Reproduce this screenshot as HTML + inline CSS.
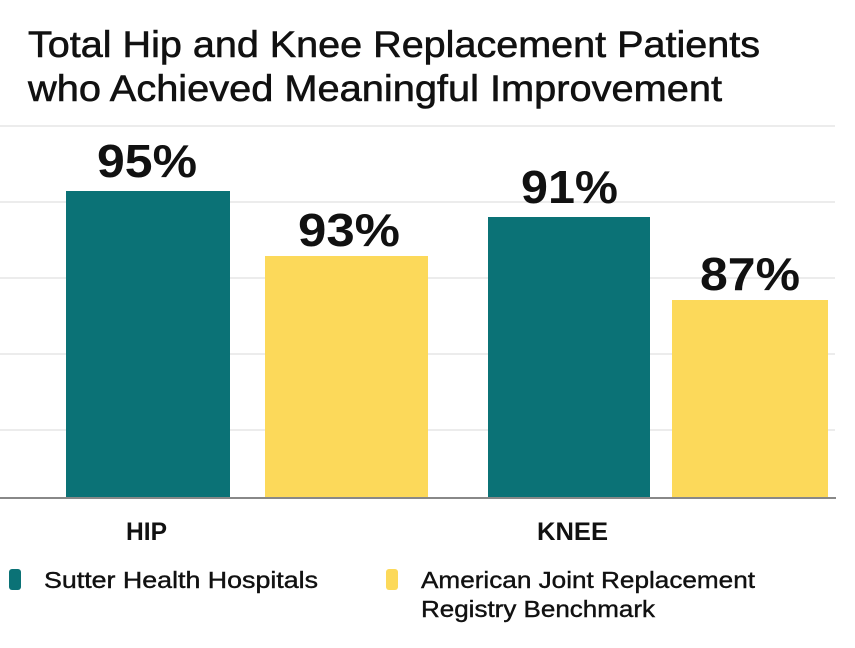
<!DOCTYPE html>
<html><head><style>
body{margin:0;width:855px;height:643px;background:#fff;overflow:hidden;font-family:"Liberation Sans",sans-serif;}
</style></head><body>
<svg width="855" height="643" xmlns="http://www.w3.org/2000/svg" font-family="Liberation Sans, sans-serif">
<g font-size="37" fill="#111" stroke="#111" stroke-width="0.6">
<text x="28" y="57" textLength="732" lengthAdjust="spacingAndGlyphs">Total Hip and Knee Replacement Patients</text>
<text x="28" y="101" textLength="694" lengthAdjust="spacingAndGlyphs">who Achieved Meaningful Improvement</text></g>
<g stroke="#e6e6e6" stroke-width="1.5">
<line x1="0" y1="126" x2="835" y2="126"/><line x1="0" y1="202" x2="835" y2="202"/>
<line x1="0" y1="278" x2="835" y2="278"/><line x1="0" y1="354" x2="835" y2="354"/>
<line x1="0" y1="430" x2="835" y2="430"/></g>
<rect x="66" y="191" width="164" height="307" fill="#0b7276"/>
<rect x="265" y="256" width="163" height="242" fill="#fcd95a"/>
<rect x="488" y="217" width="162" height="281" fill="#0b7276"/>
<rect x="672" y="300" width="156" height="198" fill="#fcd95a"/>
<line x1="0" y1="498" x2="836" y2="498" stroke="#888" stroke-width="2"/>
<g font-size="46" font-weight="bold" fill="#111">
<text x="97" y="177" textLength="100" lengthAdjust="spacingAndGlyphs">95%</text>
<text x="298" y="246" textLength="102" lengthAdjust="spacingAndGlyphs">93%</text>
<text x="521" y="203" textLength="97" lengthAdjust="spacingAndGlyphs">91%</text>
<text x="700" y="290" textLength="100" lengthAdjust="spacingAndGlyphs">87%</text></g>
<g font-size="25" font-weight="bold" fill="#111">
<text x="126" y="540" textLength="41" lengthAdjust="spacingAndGlyphs">HIP</text>
<text x="537" y="540" textLength="71" lengthAdjust="spacingAndGlyphs">KNEE</text></g>
<rect x="9" y="569" width="12" height="21" rx="3" fill="#0b7276"/>
<rect x="386" y="569" width="12" height="21" rx="3" fill="#fcd95a"/>
<g font-size="23" fill="#111" stroke="#111" stroke-width="0.4">
<text x="44" y="588" textLength="274" lengthAdjust="spacingAndGlyphs">Sutter Health Hospitals</text>
<text x="421" y="588" textLength="334" lengthAdjust="spacingAndGlyphs">American Joint Replacement</text>
<text x="421" y="617" textLength="234" lengthAdjust="spacingAndGlyphs">Registry Benchmark</text></g>
</svg>
</body></html>
